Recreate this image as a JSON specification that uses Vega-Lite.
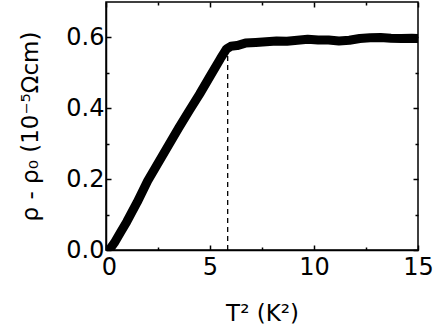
{
  "$schema": "https://vega.github.io/schema/vega-lite/v6.json",
  "width": 312,
  "height": 248,
  "autosize": "none",
  "padding": {"left": 106, "top": 2, "right": 16, "bottom": 80},
  "background": "white",
  "config": {
    "view": {"stroke": "black", "strokeWidth": 1.5},
    "axis": {
      "domainColor": "black", "domainWidth": 1.5,
      "tickColor": "black", "tickWidth": 1.5, "ticks": true, "zindex": 1,
      "labelFont": "DejaVu Sans", "titleFont": "DejaVu Sans",
      "labelColor": "black", "titleColor": "black",
      "grid": false, "labelFontSize": 24, "titleFontSize": 23,
      "titleFontWeight": "normal", "labelFlush": false, "labelOverlap": false
    }
  },
  "layer": [
    {
      "data": {"values": [
        {"t2": 0.15, "rho": 0.0}, {"t2": 0.4, "rho": 0.02}, {"t2": 0.7, "rho": 0.05},
        {"t2": 1.0, "rho": 0.08}, {"t2": 1.5, "rho": 0.135}, {"t2": 2.0, "rho": 0.195},
        {"t2": 2.5, "rho": 0.245}, {"t2": 3.0, "rho": 0.295}, {"t2": 3.5, "rho": 0.345},
        {"t2": 4.0, "rho": 0.393}, {"t2": 4.5, "rho": 0.44}, {"t2": 5.0, "rho": 0.49},
        {"t2": 5.5, "rho": 0.54}, {"t2": 5.8, "rho": 0.568}, {"t2": 6.0, "rho": 0.575},
        {"t2": 6.3, "rho": 0.577}, {"t2": 6.7, "rho": 0.584}, {"t2": 7.2, "rho": 0.586},
        {"t2": 7.7, "rho": 0.588}, {"t2": 8.2, "rho": 0.59}, {"t2": 8.7, "rho": 0.589},
        {"t2": 9.2, "rho": 0.592}, {"t2": 9.7, "rho": 0.595}, {"t2": 10.2, "rho": 0.593},
        {"t2": 10.7, "rho": 0.593}, {"t2": 11.2, "rho": 0.59}, {"t2": 11.7, "rho": 0.592},
        {"t2": 12.2, "rho": 0.597}, {"t2": 12.7, "rho": 0.599}, {"t2": 13.2, "rho": 0.6},
        {"t2": 13.7, "rho": 0.598}, {"t2": 14.2, "rho": 0.597}, {"t2": 14.7, "rho": 0.598},
        {"t2": 15.0, "rho": 0.597}
      ]},
      "mark": {"type": "line", "color": "black", "strokeWidth": 9, "strokeCap": "round", "strokeJoin": "round", "clip": true},
      "encoding": {
        "x": {
          "field": "t2", "type": "quantitative",
          "scale": {"domain": [0, 15], "nice": false, "zero": false},
          "axis": {
            "orient": "bottom",
            "values": [0, 2.5, 5, 7.5, 10, 12.5, 15],
            "tickSize": {"condition": {"test": "datum.value % 5 === 0", "value": -5}, "value": -3},
            "labelExpr": "datum.value % 5 === 0 ? format(datum.value, 'd') : ''",
            "labelOffset": {"condition": {"test": "datum.value === 0", "value": 3}, "value": 0},
            "labelPadding": 10,
            "title": "T² (K²)",
            "titlePadding": 21
          }
        },
        "y": {
          "field": "rho", "type": "quantitative",
          "scale": {"domain": [0, 0.7], "nice": false},
          "axis": {
            "orient": "left",
            "values": [0, 0.1, 0.2, 0.3, 0.4, 0.5, 0.6],
            "tickSize": {"condition": {"test": "round(datum.value * 10) % 2 === 0", "value": -5}, "value": -3},
            "labelExpr": "round(datum.value * 10) % 2 === 0 ? format(datum.value, '.1f') : ''",
            "labelPadding": 7,
            "title": "ρ - ρ₀ (10⁻⁵Ωcm)",
            "titlePadding": 23
          }
        }
      }
    },
    {
      "data": {"values": [{"x": 5.85, "y": 0, "y2": 0.57}]},
      "mark": {"type": "rule", "color": "black", "strokeWidth": 1.3, "strokeDash": [5, 4]},
      "encoding": {
        "x": {
          "field": "x", "type": "quantitative",
          "axis": {
            "orient": "top", "labels": false, "title": null, "domain": false,
            "values": [0, 2.5, 5, 7.5, 10, 12.5, 15],
            "tickSize": {"condition": {"test": "datum.value % 5 === 0", "value": -5}, "value": -3}
          }
        },
        "y": {
          "field": "y", "type": "quantitative",
          "axis": {
            "orient": "right", "labels": false, "title": null, "domain": false,
            "values": [0, 0.1, 0.2, 0.3, 0.4, 0.5, 0.6],
            "tickSize": {"condition": {"test": "round(datum.value * 10) % 2 === 0", "value": -5}, "value": -3}
          }
        },
        "y2": {"field": "y2"}
      }
    }
  ]
}
